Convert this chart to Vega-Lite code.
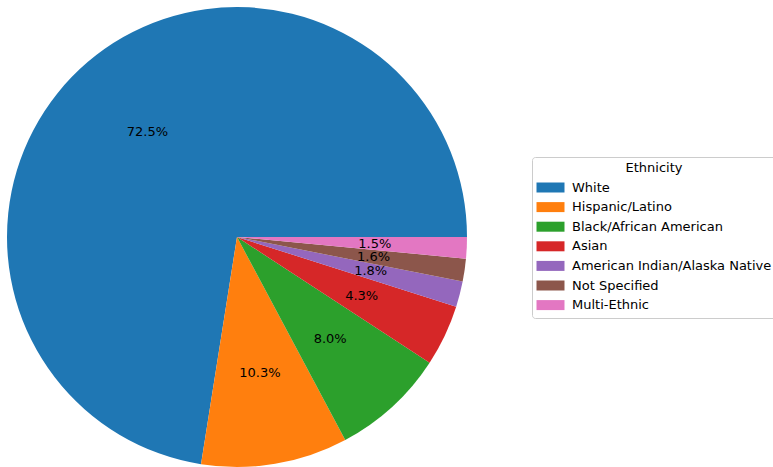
{
  "$schema": "https://vega.github.io/schema/vega-lite/v6.json",
  "width": 474,
  "height": 474,
  "padding": 0,
  "background": "white",
  "config": {"view": {"stroke": null}, "font": "DejaVu Sans"},
  "data": {
    "values": [
      {"ethnicity": "White", "pct": 72.5, "order": 1, "label": "72.5%"},
      {"ethnicity": "Hispanic/Latino", "pct": 10.3, "order": 2, "label": "10.3%"},
      {"ethnicity": "Black/African American", "pct": 8.0, "order": 3, "label": "8.0%"},
      {"ethnicity": "Asian", "pct": 4.3, "order": 4, "label": "4.3%"},
      {"ethnicity": "American Indian/Alaska Native", "pct": 1.8, "order": 5, "label": "1.8%"},
      {"ethnicity": "Not Specified", "pct": 1.6, "order": 6, "label": "1.6%"},
      {"ethnicity": "Multi-Ethnic", "pct": 1.5, "order": 7, "label": "1.5%"}
    ]
  },
  "encoding": {
    "theta": {"field": "pct", "type": "quantitative", "stack": true, "scale": {"range": [1.5707963, -4.712389]}},
    "order": {"field": "order", "type": "quantitative"}
  },
  "layer": [
    {
      "mark": {"type": "arc", "outerRadius": 230},
      "encoding": {
        "color": {
          "field": "ethnicity",
          "type": "nominal",
          "scale": {
            "domain": ["White", "Hispanic/Latino", "Black/African American", "Asian", "American Indian/Alaska Native", "Not Specified", "Multi-Ethnic"],
            "range": ["#1f77b4", "#ff7f0e", "#2ca02c", "#d62728", "#9467bd", "#8c564b", "#e377c2"]
          },
          "legend": {
            "title": "Ethnicity",
            "orient": "none",
            "legendX": 532,
            "legendY": 157,
            "titleFontSize": 13,
            "titleFontWeight": "normal",
            "titleColor": "black",
            "titleAnchor": "middle",
            "titlePadding": 6,
            "labelFontSize": 13,
            "labelColor": "black",
            "labelLimit": 400,
            "symbolType": "M-2.8,-1H2.8V1H-2.8Z",
            "symbolSize": 100,
            "symbolOffset": 7,
            "symbolStrokeWidth": 0,
            "symbolOpacity": 1,
            "labelOffset": 15,
            "rowPadding": 5.6,
            "padding": 5,
            "strokeColor": "#cccccc",
            "fillColor": "white",
            "cornerRadius": 3
          }
        }
      }
    },
    {
      "mark": {"type": "text", "radius": 138, "fontSize": 13, "color": "black"},
      "encoding": {
        "detail": {"field": "ethnicity", "type": "nominal"},
        "text": {"field": "label", "type": "nominal"}
      }
    }
  ]
}
